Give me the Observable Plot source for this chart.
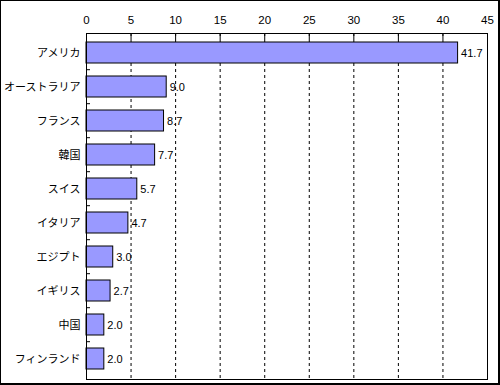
<!DOCTYPE html>
<html><head><meta charset="utf-8">
<script src="https://cdn.jsdelivr.net/npm/d3@7"></script>
<script src="https://cdn.jsdelivr.net/npm/@observablehq/plot@0.6"></script>
<style>
body{margin:0;background:#fff;}
#chart svg{display:block;border:1px solid #000;border-right-width:2px;border-bottom-width:2px;}
</style></head>
<body><div id="chart"></div>
<script>
const categories = ["アメリカ","オーストラリア","フランス","韓国","スイス","イタリア","エジプト","イギリス","中国","フィンランド"];
const values = [41.7, 9.0, 8.7, 7.7, 5.7, 4.7, 3.0, 2.7, 2.0, 2.0];
const xTicks = [0,5,10,15,20,25,30,35,40,45];
const data = categories.map((c,i)=>({country:c, value:values[i]}));
const step = 346/10;
const chart = Plot.plot({
  width: 497, height: 382,
  marginLeft: 85, marginRight: 11, marginTop: 32, marginBottom: 4,
  style: {fontFamily: "'Noto Sans CJK JP', sans-serif", fontSize: "11px", color: "#000", background: "#fff"},
  x: {domain: [0,45], ticks: xTicks},
  y: {domain: categories, paddingInner: 0.37, paddingOuter: 0.185},
  marks: [
    Plot.gridX(xTicks, {stroke: "#000", strokeOpacity: 1, strokeDasharray: "3,3"}),
    Plot.axisX(xTicks, {anchor: "top", tickSize: 0, tickPadding: 10, fontSize: 11.5, fill: "#000", fontFamily: "'Liberation Sans', sans-serif", label: null}),
    Plot.axisX(xTicks, {anchor: "top", tickSize: 5, dy: 5, tickFormat: () => "", label: null}),
    Plot.axisY({tickSize: 0, tickPadding: 6, fontSize: 11, fill: "#000", label: null}),
    Plot.ruleY(categories.slice(1), {y: d => d, x1: 0, x2: 0.45, dy: -step/2, stroke: "#000"}),
    Plot.barX(data, {y: "country", x: "value", fill: "#9999ff", stroke: "#000", strokeWidth: 1}),
    Plot.text(data, {y: "country", x: "value", text: d => d.value.toFixed(1), textAnchor: "start", dx: 3, fontSize: 11, fontFamily: "'Liberation Sans', sans-serif", fill: "#000"}),
    Plot.frame({stroke: "#000"})
  ]
});
document.getElementById("chart").appendChild(chart);
</script></body></html>
